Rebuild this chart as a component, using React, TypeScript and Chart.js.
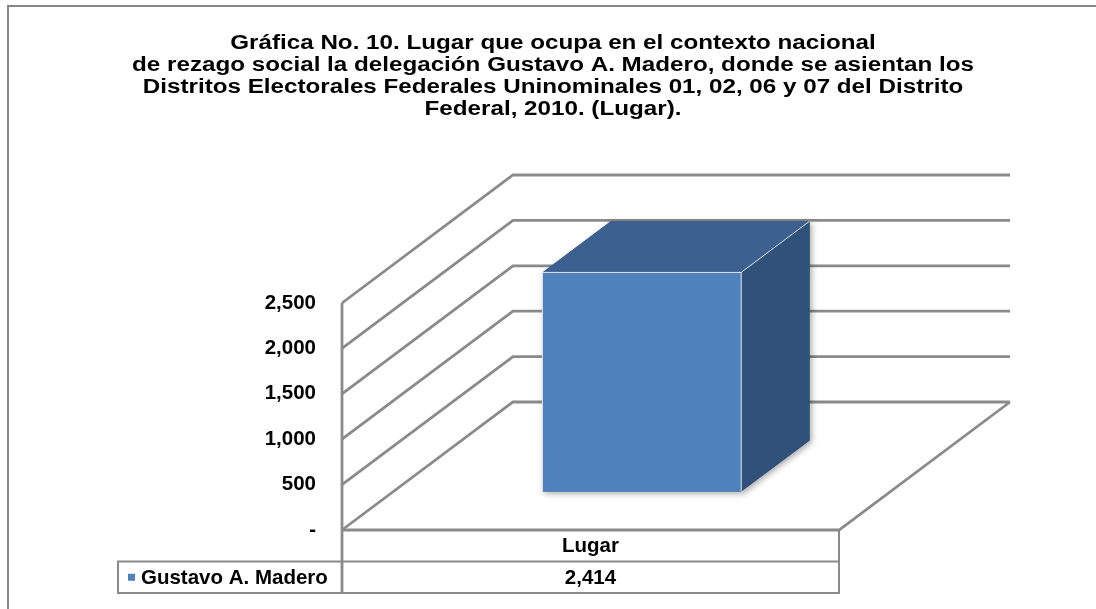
import React, { useEffect, useRef } from 'react';
import { Chart, registerables } from 'chart.js';

Chart.register(...registerables);

// ---- data ----
const categories: string[] = ['Lugar'];
const seriesName = 'Gustavo A. Madero';
const values: number[] = [2414];
const yMin = 0;
const yMax = 2500;
const yStep = 500;
const titleLines: string[] = [
  'Gráfica No. 10. Lugar que ocupa en el contexto nacional',
  'de rezago social la delegación Gustavo A. Madero, donde se asientan los',
  'Distritos Electorales Federales Uninominales 01, 02, 06 y 07 del Distrito',
  'Federal, 2010. (Lugar).',
];

// ---- styles ----
const FONT = 'Arial, "Liberation Sans", sans-serif';
const LABEL_SIZE = 20.5;
const DEPTH_X = 171;
const DEPTH_Y = -128;
const GRID = '#8a8a8a';
const FRONT = '#4F81BD';
const SIDE = '#30517A';
const TOP = '#3C6190';
const ROW_H = 31.5;
const LEGEND_CELL_LEFT = 118;
const TITLE_CENTER_X = 553;
const TITLE_FIRST_BASELINE = 49;
const TITLE_LINE_H = 22;
const TITLE_STRETCH = 1.21;

const fmt = (v: number) => (v === 0 ? '-' : v.toLocaleString('en-US'));

const threeD = {
  id: 'threeD',
  beforeDraw(chart: any) {
    const { ctx } = chart;
    ctx.save();
    ctx.fillStyle = '#ffffff';
    ctx.fillRect(0, 0, chart.width, chart.height);
    ctx.strokeStyle = '#878787';
    ctx.lineWidth = 2;
    ctx.strokeRect(8, 6, chart.width + 40, chart.height + 40);
    ctx.restore();
  },
  beforeDatasetsDraw(chart: any) {
    const { ctx, chartArea: ca, scales } = chart;
    const y = scales.y;
    ctx.save();
    ctx.strokeStyle = GRID;
    ctx.lineWidth = 2.8;
    ctx.lineJoin = 'miter';
    y.ticks.forEach((t: any) => {
      const yf = y.getPixelForValue(t.value);
      ctx.beginPath();
      ctx.moveTo(ca.left, yf);
      ctx.lineTo(ca.left + DEPTH_X, yf + DEPTH_Y);
      ctx.lineTo(ca.right + DEPTH_X, yf + DEPTH_Y);
      ctx.stroke();
    });
    // left wall front edge
    ctx.beginPath();
    ctx.moveTo(ca.left, y.getPixelForValue(yMax));
    ctx.lineTo(ca.left, ca.bottom + 2 * ROW_H);
    ctx.stroke();
    // floor front + right edges
    ctx.beginPath();
    ctx.moveTo(ca.left, ca.bottom);
    ctx.lineTo(ca.right, ca.bottom);
    ctx.lineTo(ca.right + DEPTH_X, ca.bottom + DEPTH_Y);
    ctx.stroke();
    ctx.restore();
  },
  afterDatasetsDraw(chart: any) {
    const { ctx } = chart;
    const meta = chart.getDatasetMeta(0);
    ctx.save();
    meta.data.forEach((el: any) => {
      const f = 0.3;
      const d = 0.4;
      const l = el.x - el.width / 2 + f * DEPTH_X;
      const r = el.x + el.width / 2 + f * DEPTH_X;
      const t = el.y + f * DEPTH_Y;
      const b = el.base + f * DEPTH_Y;
      const dx = d * DEPTH_X;
      const dy = d * DEPTH_Y;
      // shadow
      ctx.save();
      ctx.shadowColor = 'rgba(0,0,0,0.35)';
      ctx.shadowBlur = 6;
      ctx.shadowOffsetX = 2;
      ctx.shadowOffsetY = 2;
      ctx.fillStyle = SIDE;
      ctx.beginPath();
      ctx.moveTo(l, b);
      ctx.lineTo(r, b);
      ctx.lineTo(r + dx, b + dy);
      ctx.lineTo(r + dx, t + dy);
      ctx.lineTo(l + dx, t + dy);
      ctx.lineTo(l, t);
      ctx.closePath();
      ctx.fill();
      ctx.restore();
      // side
      ctx.fillStyle = SIDE;
      ctx.beginPath();
      ctx.moveTo(r, t);
      ctx.lineTo(r + dx, t + dy);
      ctx.lineTo(r + dx, b + dy);
      ctx.lineTo(r, b);
      ctx.closePath();
      ctx.fill();
      // top
      ctx.fillStyle = TOP;
      ctx.beginPath();
      ctx.moveTo(l, t);
      ctx.lineTo(r, t);
      ctx.lineTo(r + dx, t + dy);
      ctx.lineTo(l + dx, t + dy);
      ctx.closePath();
      ctx.fill();
      // front
      ctx.fillStyle = FRONT;
      ctx.fillRect(l, t, r - l, b - t);
      // edges
      ctx.strokeStyle = 'rgba(255,255,255,0.85)';
      ctx.lineWidth = 1;
      ctx.beginPath();
      ctx.moveTo(l, b);
      ctx.lineTo(l, t);
      ctx.lineTo(r, t);
      ctx.lineTo(r, b);
      ctx.moveTo(r, t);
      ctx.lineTo(r + dx, t + dy);
      ctx.stroke();
    });
    ctx.restore();
  },
  afterDraw(chart: any) {
    const { ctx, chartArea: ca, scales } = chart;
    const x = scales.x;
    ctx.save();
    // title (Excel-style wide bold title)
    ctx.fillStyle = '#000';
    ctx.font = `bold 20px ${FONT}`;
    ctx.textAlign = 'center';
    ctx.textBaseline = 'alphabetic';
    titleLines.forEach((line, i) => {
      ctx.save();
      ctx.translate(TITLE_CENTER_X, TITLE_FIRST_BASELINE + i * TITLE_LINE_H);
      ctx.scale(TITLE_STRETCH, 1);
      ctx.fillText(line, 0, 0);
      ctx.restore();
    });
    // data table
    ctx.strokeStyle = GRID;
    ctx.lineWidth = 2;
    const r1 = ca.bottom;
    const r2 = ca.bottom + ROW_H;
    const r3 = ca.bottom + 2 * ROW_H;
    ctx.beginPath();
    ctx.moveTo(ca.right, r1);
    ctx.lineTo(ca.right, r3);
    ctx.lineTo(LEGEND_CELL_LEFT, r3);
    ctx.lineTo(LEGEND_CELL_LEFT, r2);
    ctx.lineTo(ca.right, r2);
    ctx.stroke();
    ctx.fillStyle = '#000';
    ctx.font = `bold ${LABEL_SIZE}px ${FONT}`;
    ctx.textBaseline = 'middle';
    ctx.textAlign = 'center';
    categories.forEach((c, i) => {
      const cx = x.getPixelForValue(i);
      ctx.fillText(c, cx, (r1 + r2) / 2 + 1);
      ctx.fillText(values[i].toLocaleString('en-US'), cx, (r2 + r3) / 2 + 1);
    });
    ctx.fillStyle = FRONT;
    ctx.fillRect(LEGEND_CELL_LEFT + 10, (r2 + r3) / 2 - 3.5, 7, 7);
    ctx.fillStyle = '#000';
    ctx.textAlign = 'left';
    ctx.fillText(seriesName, LEGEND_CELL_LEFT + 23, (r2 + r3) / 2 + 1);
    ctx.restore();
  },
};

export default function App() {
  const ref = useRef<HTMLCanvasElement | null>(null);
  useEffect(() => {
    if (!ref.current) return;
    const chart = new Chart(ref.current, {
      type: 'bar',
      data: {
        labels: categories,
        datasets: [
          {
            label: seriesName,
            data: values,
            backgroundColor: 'rgba(0,0,0,0)',
            borderWidth: 0,
            categoryPercentage: 1,
            barPercentage: 0.4,
          },
        ],
      },
      options: {
        animation: false,
        responsive: true,
        maintainAspectRatio: false,
        layout: { padding: { left: 10, right: 0, top: 303, bottom: 79 } },
        plugins: {
          legend: { display: false },
          tooltip: { enabled: false },
          title: { display: false },
        },
        scales: {
          x: { display: false },
          y: {
            min: yMin,
            max: yMax,
            grid: { display: false, drawTicks: false },
            border: { display: false },
            ticks: {
              stepSize: yStep,
              padding: 26,
              color: '#000',
              font: { family: FONT, size: LABEL_SIZE, weight: 'bold' },
              callback: (v: any) => fmt(Number(v)),
            },
            afterFit: (s: any) => {
              s.width = 332;
            },
          },
          yRight: {
            position: 'right',
            display: true,
            grid: { display: false, drawTicks: false },
            border: { display: false },
            ticks: { display: false },
            afterFit: (s: any) => {
              s.width = 257;
            },
          },
        },
      },
      plugins: [threeD],
    });
    return () => chart.destroy();
  }, []);
  return (
    <div style={{ position: 'fixed', left: 0, top: 0, width: 1096, height: 609, background: '#fff' }}>
      <canvas ref={ref} />
    </div>
  );
}
